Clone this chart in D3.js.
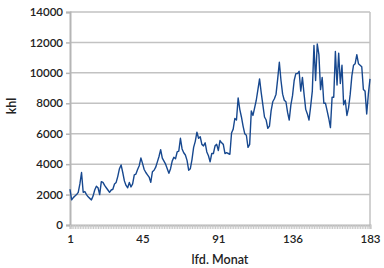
<!DOCTYPE html>
<html>
<head>
<meta charset="utf-8">
<script src="https://cdn.jsdelivr.net/npm/d3@7"></script>
<style>
  body { margin: 0; background: #fff; }
  svg text { font-family: "Lato", "DejaVu Sans", sans-serif; fill: #222; }
</style>
</head>
<body>
<div id="chart"></div>
<script>
// monthly values in khl, month 1..183
var khl = [
  2350, 1650, 1800, 1900, 2000, 2150, 2700, 3450, 2150, 2200,
  2000, 1850, 1750, 1650, 1900, 2300, 2550, 2450, 2000, 2850,
  2800, 2600, 2450, 2300, 2150, 2300, 2350, 2700, 2800, 3200,
  3700, 3950, 3450, 2900, 2600, 2450, 2800, 2500, 2700, 3300,
  3350, 3650, 3900, 4400, 4050, 3650, 3450, 3300, 3150, 2800,
  3500, 3600, 3800, 4150, 4500, 4950, 4400, 4200, 4000, 3700,
  3400, 3700, 4200, 4450, 4350, 4800, 4850, 5700, 5000, 4750,
  4600, 4250, 3600, 3700, 4300, 5100, 5500, 6100, 5700, 5800,
  5300, 5200, 5400, 4800, 4550, 4150, 4700, 4700, 5200, 5300,
  4900, 5550, 5400, 5300, 4700, 4750, 4700, 4650, 6050, 6300,
  7000, 6900, 8350, 7600, 7100, 6500, 6000, 5900, 5100, 5300,
  7500, 7200, 7700, 8200, 8900, 9600, 8700, 7900, 7100, 6900,
  6350, 6500, 7500, 8100, 8300, 8600, 9600, 10700, 9500, 8600,
  8200, 8100, 7400, 6900, 7900, 8500, 9500, 9950, 9950, 10100,
  8800, 9700, 8600, 7600, 7300, 6900, 7800, 8800, 11800, 9500,
  11900, 11200, 8900, 9700, 8000, 8000, 7500, 7000, 6400, 8400,
  8400, 11400, 9200, 11300, 9300, 10500, 7900, 8200, 7200, 7700,
  8600, 9800, 10500, 10600, 11200, 10600, 10500, 10400, 8900, 8800,
  7300, 8600, 9600
];
var months = d3.range(1, khl.length + 1);
var yTicks = [0, 2000, 4000, 6000, 8000, 10000, 12000, 14000];
var xTicks = [1, 45, 91, 136, 183];

var width = 384, height = 268;
var mLeft = 70, mRight = 370, mTop = 12, mBottom = 225;

var svg = d3.select("#chart").append("svg")
    .attr("width", width)
    .attr("height", height);

var x = d3.scaleLinear().domain([1, 183]).range([mLeft, mRight]);
var y = d3.scaleLinear().domain([0, 14000]).range([mBottom, mTop]);

/* grid lines */
svg.append("g")
    .selectAll("line")
    .data(yTicks.slice(1)).enter()
    .append("line")
    .attr("x1", mLeft).attr("x2", mRight)
    .attr("y1", d => y(d)).attr("y2", d => y(d))
    .attr("stroke", "#c2c2c2")
    .attr("stroke-width", 1.5);

/* right border */
svg.append("line")
    .attr("x1", mRight).attr("x2", mRight)
    .attr("y1", mTop).attr("y2", mBottom)
    .attr("stroke", "#c2c2c2")
    .attr("stroke-width", 1.5);

/* y axis */
var yAxis = svg.append("g")
    .attr("transform", `translate(${mLeft},0)`)
    .call(d3.axisLeft(y).tickValues(yTicks).tickSize(4).tickPadding(3).tickFormat(d3.format("d")));
yAxis.select(".domain").attr("stroke", "#b5b5b5").attr("stroke-width", 2);
yAxis.selectAll(".tick line").attr("stroke", "#b5b5b5").attr("stroke-width", 1.5);
yAxis.selectAll("text").style("font-size", "11.5px").style("font-weight", "600").attr("fill", "#222");

/* x axis: minor ticks every month */
var xMinor = svg.append("g")
    .attr("transform", `translate(0,${mBottom})`)
    .call(d3.axisBottom(x).tickValues(months).tickSize(4).tickFormat(""));
xMinor.select(".domain").attr("stroke", "#b5b5b5").attr("stroke-width", 2);
xMinor.selectAll(".tick line").attr("stroke", "#c8c8c8").attr("stroke-width", 1);

var xAxis = svg.append("g")
    .attr("transform", `translate(0,${mBottom})`)
    .call(d3.axisBottom(x).tickValues(xTicks).tickSize(0).tickPadding(10));
xAxis.select(".domain").remove();
xAxis.selectAll("text").style("font-size", "11.5px").style("font-weight", "600").attr("fill", "#222");

/* line */
var line = d3.line()
    .x((d, i) => x(months[i]))
    .y(d => y(d));

svg.append("path")
    .datum(khl)
    .attr("d", line)
    .attr("fill", "none")
    .attr("stroke", "#17488f")
    .attr("stroke-width", 1.4)
    .attr("stroke-linejoin", "round");

/* axis titles */
svg.append("text")
    .attr("x", (mLeft + mRight) / 2)
    .attr("y", 264)
    .attr("text-anchor", "middle")
    .style("font-size", "12.5px")
    .style("font-weight", "600")
    .text("lfd. Monat");

svg.append("text")
    .attr("transform", "translate(16,106) rotate(-90)")
    .attr("text-anchor", "middle")
    .style("font-size", "12.5px")
    .style("font-weight", "600")
    .text("khl");
</script>
</body>
</html>
